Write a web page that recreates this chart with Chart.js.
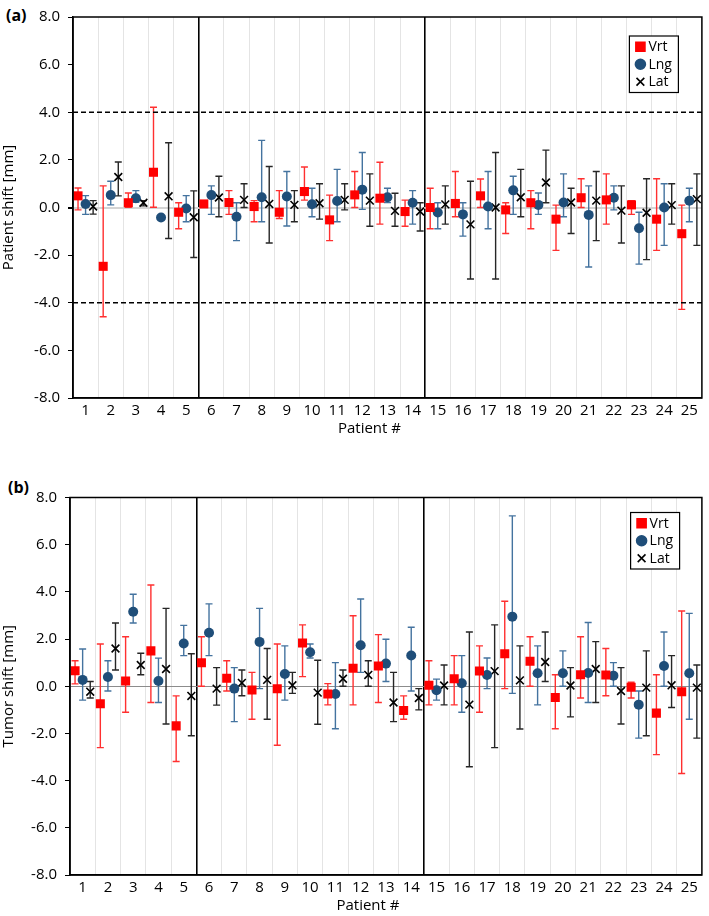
<!DOCTYPE html>
<html>
<head>
<meta charset="utf-8">
<script src="https://cdn.jsdelivr.net/npm/chart.js@4.4.0/dist/chart.umd.min.js"></script>
<style>
  body { margin: 0; background: #fff; width: 709px; height: 916px; position: relative; overflow: hidden; }
  .panel { position: absolute; left: 0; }
  .tag { position: absolute; font: bold 16px "Open Sans", sans-serif; color: #000; }
</style>
</head>
<body>
<div class="tag" style="left:6px; top:4px;">(a)</div>
<div class="panel" style="top:0px;"><canvas id="chartA" width="709" height="458"></canvas></div>
<div class="tag" style="left:8px; top:476px;">(b)</div>
<div class="panel" style="top:458px;"><canvas id="chartB" width="709" height="458"></canvas></div>

<script>
// === Data ===
const patients = [1,2,3,4,5,6,7,8,9,10,11,12,13,14,15,16,17,18,19,20,21,22,23,24,25];
const seriesNames = ["Vrt", "Lng", "Lat"];
const yTicks = [-8, -6, -4, -2, 0, 2, 4, 6, 8];
const groupBreaks = [5.5, 14.5];
const limitLines = [4, -4];

// (a) patient shift [mm]: mean, upper and lower whisker
const vrtA   = [0.49,-2.47,0.20,1.48,-0.20,0.15,0.21,0.04,-0.20,0.67,-0.52,0.53,0.39,-0.17,0.00,0.17,0.49,-0.10,0.20,-0.49,0.41,0.32,0.11,-0.49,-1.10];
const vrtAHi = [0.82,0.91,0.61,4.21,0.20,0.20,0.71,0.29,0.71,1.70,0.52,1.51,1.90,0.31,0.81,1.51,1.20,0.20,0.71,0.10,1.21,1.41,0.29,1.21,0.10];
const vrtALo = [-0.10,-4.59,0.01,0.01,-0.89,0.10,-0.29,-0.60,-0.46,0.31,-1.39,0.00,-0.70,-0.79,-0.89,-0.39,0.00,-1.09,-0.89,-1.80,0.00,-0.70,-0.29,-1.80,-4.28];
const lngA   = [0.15,0.52,0.39,-0.42,-0.04,0.52,-0.39,0.43,0.46,0.14,0.27,0.75,0.43,0.20,-0.21,-0.29,0.04,0.72,0.11,0.21,-0.31,0.41,-0.87,0.00,0.28];
const lngAHi = [0.50,1.10,0.71,-0.35,0.50,0.91,0.20,2.82,1.51,0.81,1.60,2.31,0.81,0.71,0.20,0.20,1.51,1.31,0.61,1.41,0.91,0.91,-0.20,1.00,0.81];
const lngALo = [-0.29,0.11,0.22,-0.49,-0.60,-0.29,-1.39,-0.60,-0.78,-0.39,-0.60,-0.08,0.21,-0.70,-0.89,-1.20,-0.89,-0.29,-0.29,-0.39,-2.50,-0.10,-2.38,-1.59,-0.60];
const latA   = [0.04,1.28,0.20,0.47,-0.41,0.42,0.32,0.15,0.11,0.18,0.32,0.29,-0.14,-0.17,0.13,-0.71,0.00,0.43,1.05,0.21,0.29,-0.13,-0.22,0.10,0.35];
const latAHi = [0.29,1.91,0.29,2.72,0.70,1.31,1.00,1.72,0.71,1.00,1.00,1.41,0.60,0.20,0.91,1.10,2.31,1.60,2.41,0.81,1.51,0.91,1.21,1.00,1.41];
const latALo = [-0.28,0.49,0.07,-1.30,-2.10,-0.39,0.00,-1.49,-0.60,-0.49,-0.10,-0.79,-0.79,-0.99,-0.70,-3.00,-3.00,-0.39,0.20,-1.09,-1.39,-1.49,-2.19,-0.70,-1.59];

// (b) tumor shift [mm]
const vrtB   = [0.66,-0.74,0.22,1.50,-1.68,1.00,0.34,-0.16,-0.11,1.83,-0.33,0.76,0.86,-1.03,0.04,0.32,0.65,1.38,1.06,-0.48,0.49,0.48,-0.04,-1.14,-0.23];
const vrtBHi = [1.08,1.79,2.10,4.29,-0.41,2.10,1.08,0.59,1.79,2.60,0.11,2.99,2.19,-0.41,1.08,1.30,1.71,3.60,2.10,0.49,2.10,1.60,0.17,0.49,3.19];
const vrtBLo = [0.10,-2.60,-1.10,-0.69,-3.19,0.00,-0.20,-1.40,-2.50,0.41,-0.79,-0.79,-0.69,-1.40,-0.79,-0.79,-1.10,-0.10,0.00,-1.80,-0.50,-0.40,-0.50,-2.90,-3.70];
const lngB   = [0.27,0.39,3.16,0.22,1.81,2.27,-0.10,1.88,0.52,1.44,-0.33,1.74,0.96,1.30,-0.17,0.13,0.48,2.95,0.55,0.55,0.56,0.45,-0.78,0.86,0.55];
const lngBHi = [1.58,1.08,3.90,1.19,2.58,3.49,0.79,3.30,1.71,1.79,1.00,3.70,1.99,2.50,0.30,1.30,1.20,7.22,1.71,1.50,2.70,1.00,-0.20,2.30,3.09];
const lngBLo = [-0.59,-0.20,2.68,-0.69,1.30,1.30,-1.50,-0.10,-0.59,1.20,-1.80,0.59,0.20,-0.20,-0.59,-1.10,-0.10,-0.30,-0.79,0.00,-0.69,0.00,-2.20,0.00,-1.40];
const latB   = [-0.23,1.60,0.90,0.73,-0.41,-0.10,0.14,0.27,0.04,-0.27,0.32,0.48,-0.69,-0.50,0.03,-0.78,0.64,0.25,1.03,0.03,0.73,-0.20,-0.06,0.04,-0.06];
const latBHi = [0.20,2.68,1.40,3.30,1.38,0.79,0.69,1.60,0.59,1.10,0.69,1.08,0.59,-0.10,0.90,2.30,2.60,1.71,2.30,0.79,1.89,0.79,1.50,1.30,0.90];
const latBLo = [-0.50,0.69,0.49,-1.60,-2.10,-0.80,-0.40,-1.40,-0.30,-1.61,0.00,0.00,-1.50,-1.00,-0.79,-3.41,-2.60,-1.81,0.20,-1.30,-0.69,-1.60,-2.10,-0.90,-2.20];

// === Styles per series ===
const seriesStyle = [
  { offset: -0.3, pointStyle: "rect",     radius: 6.4, color: "#ff0000", barColor: "#ff3030" },
  { offset:  0.0, pointStyle: "circle",   radius: 5,   color: "#1f4e79", barColor: "#44739f" },
  { offset:  0.3, pointStyle: "crossRot", radius: 5.5, color: "#000000", barColor: "#262626" }
];
const FONT = "'Open Sans', sans-serif";

// === Plugins ===
const errorBars = {
  id: "errorBars",
  beforeDatasetsDraw(chart) {
    const { ctx, scales: { x, y } } = chart;
    chart.data.datasets.forEach(ds => {
      ctx.save();
      ctx.strokeStyle = ds.barColor;
      ctx.lineWidth = 1.4;
      ds.data.forEach(p => {
        const px = x.getPixelForValue(p.x);
        const top = y.getPixelForValue(p.hi);
        const bot = y.getPixelForValue(p.lo);
        ctx.beginPath();
        ctx.moveTo(px, top); ctx.lineTo(px, bot);
        ctx.moveTo(px - 3.5, top); ctx.lineTo(px + 3.5, top);
        ctx.moveTo(px - 3.5, bot); ctx.lineTo(px + 3.5, bot);
        ctx.stroke();
      });
      ctx.restore();
    });
  }
};

const frameAndLines = {
  id: "frameAndLines",
  beforeDatasetsDraw(chart, args, opts) {
    const { ctx, chartArea: a, scales: { y } } = chart;
    ctx.save();
    if (opts.dashed) {
      ctx.strokeStyle = "#000";
      ctx.lineWidth = 1.5;
      ctx.setLineDash([5, 3]);
      limitLines.forEach(v => {
        const py = y.getPixelForValue(v);
        ctx.beginPath(); ctx.moveTo(a.left, py); ctx.lineTo(a.right, py); ctx.stroke();
      });
    }
    ctx.restore();
  },
  afterDraw(chart, args, opts) {
    const { ctx, chartArea: a } = chart;
    ctx.save();
    ctx.strokeStyle = "#000";
    ctx.lineWidth = 1.5;
    ctx.strokeRect(a.left, a.top, a.right - a.left, a.bottom - a.top);
    // x axis title, sits a bit left of centre like the original
    ctx.fillStyle = "#000";
    ctx.font = "15px " + FONT;
    ctx.textAlign = "center";
    ctx.textBaseline = "middle";
    ctx.fillText("Patient #", (a.left + a.right) / 2 - 18, a.bottom + opts.xTitleGap);
    ctx.restore();
  }
};

const boxLegend = {
  id: "boxLegend",
  afterDraw(chart, args, opts) {
    const { ctx, chartArea: a } = chart;
    const w = 49, rowH = 17.5, h = rowH * 3 + 4;
    const left = a.right - opts.right - w;
    const top = a.top + opts.top;
    ctx.save();
    ctx.fillStyle = "#fff";
    ctx.fillRect(left, top, w, h);
    ctx.strokeStyle = "#000";
    ctx.lineWidth = 1.2;
    ctx.strokeRect(left, top, w, h);
    ctx.font = "14px " + FONT;
    ctx.textBaseline = "middle";
    seriesNames.forEach((name, i) => {
      const st = seriesStyle[i];
      const cy = top + 2 + rowH * (i + 0.5);
      ctx.fillStyle = st.color;
      ctx.strokeStyle = st.color;
      ctx.lineWidth = 1.6;
      Chart.helpers.drawPoint(ctx, { pointStyle: st.pointStyle, radius: st.radius, borderWidth: 1.6, rotation: 0 }, left + 11, cy);
      ctx.fillStyle = "#000";
      ctx.fillText(name, left + 19, cy + 0.5);
    });
    ctx.restore();
  }
};

// === Build one panel ===
function buildDatasets(values, his, los) {
  return seriesNames.map((name, i) => {
    const st = seriesStyle[i];
    return {
      label: name,
      data: patients.map((p, k) => ({ x: p + st.offset, y: values[i][k], hi: his[i][k], lo: los[i][k] })),
      pointStyle: st.pointStyle,
      pointRadius: st.radius,
      pointHoverRadius: st.radius,
      backgroundColor: st.color,
      borderColor: st.color,
      borderWidth: st.pointStyle === "crossRot" ? 1.6 : 0,
      barColor: st.barColor,
      showLine: false
    };
  });
}

function criarPainel(id, cfg) {
  const ctx = document.getElementById(id).getContext("2d");
  return new Chart(ctx, {
    type: "scatter",
    data: { datasets: buildDatasets(cfg.values, cfg.his, cfg.los) },
    options: {
      responsive: false,
      animation: false,
      devicePixelRatio: 1,
      layout: { padding: { top: cfg.padTop, right: cfg.padRight, left: 0, bottom: 0 } },
      plugins: {
        legend: { display: false },
        tooltip: { enabled: false },
        frameAndLines: { dashed: cfg.dashed, xTitleGap: 31 },
        boxLegend: { right: cfg.legendRight, top: cfg.legendTop }
      },
      scales: {
        x: {
          type: "linear",
          min: 0.5,
          max: 25.5,
          afterBuildTicks: s => {
            s.ticks = [];
            for (let v = 0.5; v <= 25.5; v += 0.5) s.ticks.push({ value: v });
          },
          afterFit: s => { s.height = cfg.xHeight; },
          ticks: {
            autoSkip: false,
            maxRotation: 0,
            padding: 4,
            color: "#000",
            font: { family: FONT, size: 15 },
            callback: v => Number.isInteger(v) ? String(v) : ""
          },
          grid: {
            drawTicks: false,
            color: c => groupBreaks.includes(c.tick.value) ? "#000"
              : (Number.isInteger(c.tick.value) ? "rgba(0,0,0,0)" : "#e4e4e4"),
            lineWidth: c => groupBreaks.includes(c.tick.value) ? 1.6 : 1
          },
          border: { color: "#000", width: 1.5 },
          title: { display: false }
        },
        y: {
          min: -8,
          max: 8,
          afterBuildTicks: s => { s.ticks = yTicks.map(v => ({ value: v })); },
          afterFit: s => { s.width = cfg.yWidth; },
          ticks: {
            padding: 8,
            color: "#000",
            font: { family: FONT, size: 15 },
            callback: v => v.toFixed(1)
          },
          grid: {
            tickLength: 5,
            tickColor: "#000",
            color: c => c.tick.value === 0 ? cfg.zeroColor : "rgba(0,0,0,0)",
            lineWidth: c => c.tick.value === 0 ? cfg.zeroWidth : 1
          },
          border: { color: "#000", width: 1.5 },
          title: {
            display: true,
            text: cfg.yTitle,
            color: "#000",
            font: { family: FONT, size: 15 },
            padding: { top: 0, bottom: 0 }
          }
        }
      }
    },
    plugins: [errorBars, frameAndLines, boxLegend]
  });
}

// === Panels ===
criarPainel("chartA", {
  values: [vrtA, lngA, latA], his: [vrtAHi, lngAHi, latAHi], los: [vrtALo, lngALo, latALo],
  yTitle: "Patient shift [mm]", dashed: true,
  padTop: 15.8, padRight: 2.5, yWidth: 73, xHeight: 60,
  zeroColor: "#d4d4d4", zeroWidth: 2,
  legendRight: 23.5, legendTop: 19
});

criarPainel("chartB", {
  values: [vrtB, lngB, latB], his: [vrtBHi, lngBHi, latBHi], los: [vrtBLo, lngBLo, latBLo],
  yTitle: "Tumor shift [mm]", dashed: false,
  padTop: 39.5, padRight: 5.7, yWidth: 70, xHeight: 41,
  zeroColor: "#8c8c8c", zeroWidth: 1,
  legendRight: 22.3, legendTop: 15
});
</script>
</body>
</html>
